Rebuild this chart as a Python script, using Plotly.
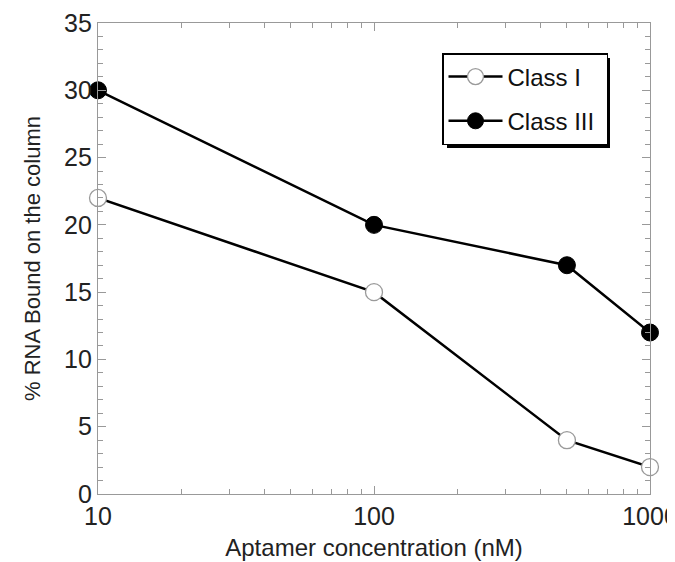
import plotly.graph_objects as go

concentration = [10, 100, 500, 1000]
class_i = [22, 15, 4, 2]
class_iii = [30, 20, 17, 12]
y_ticks = [0, 5, 10, 15, 20, 25, 30, 35]
x_ticks = [10, 100, 1000]
x_minor = [20, 30, 40, 50, 60, 70, 80, 90, 200, 300, 400, 500, 600, 700, 800, 900]

FONT = "Liberation Sans, Arial, sans-serif"

fig = go.Figure()
fig.add_trace(go.Scatter(
    x=concentration, y=class_i, mode="lines+markers", name="Class I",
    line=dict(color="black", width=2.5),
    marker=dict(size=17, color="white", line=dict(color="#9a9a9a", width=1.3)),
    cliponaxis=False, legendgroup="a",
))
fig.add_trace(go.Scatter(
    x=concentration, y=class_iii, mode="lines+markers", name="Class III\u00a0",
    line=dict(color="black", width=2.5),
    marker=dict(size=17, color="black", line=dict(color="black", width=1)),
    cliponaxis=False, legendgroup="b",
))

# page body has an 8px margin; compensate so screen positions match
OFF = 8
W, H = 675 - OFF, 562 - OFF
L, R, T, B = 98 - OFF, 25, 23 - OFF, 68
pw, ph = W - L - R, H - T - B

def px_to_paper(xp, yp):
    # xp, yp are screen pixels
    return (xp - OFF - L) / pw, (H - B - (yp - OFF)) / ph

lx0, ly0 = px_to_paper(442, 53)
sx0, sy0 = px_to_paper(447, 58)
sx1, sy1 = px_to_paper(610, 148)

fig.add_shape(type="rect", xref="paper", yref="paper", x0=sx0, y0=sy1, x1=sx1, y1=sy0,
              fillcolor="black", line=dict(width=0), layer="above")

axis_common = dict(
    ticks="inside", showline=True, linecolor="#999999", linewidth=1.2,
    tickcolor="#999999", mirror="ticks", showgrid=False, zeroline=False,
    automargin=False, ticklabeloverflow="allow",
    tickfont=dict(family=FONT, size=25, color="#222222"),
)

fig.update_layout(
    width=W, height=H,
    margin=dict(l=L, r=R, t=T, b=B),
    paper_bgcolor="white", plot_bgcolor="white",
    font=dict(family=FONT, color="#222222"),
    xaxis=dict(type="log", range=[1, 3], tickvals=x_ticks, ticktext=[str(v) for v in x_ticks],
               ticklen=8, tickwidth=1,
               minor=dict(ticks="inside", tickvals=x_minor, ticklen=5, tickcolor="#999999"),
               title=dict(text="Aptamer concentration (nM)", standoff=10,
                          font=dict(family=FONT, size=24, color="#222222")),
               **axis_common),
    yaxis=dict(range=[0, 35], tickvals=y_ticks, ticklen=8, tickwidth=1,
               ticklabelstandoff=0,
               minor=dict(ticks="inside", dtick=1, ticklen=5, tickcolor="#999999"),
               title=dict(text="% RNA Bound on the column", standoff=17,
                          font=dict(family=FONT, size=22, color="#222222")),
               **axis_common),
    showlegend=True,
    legend=dict(x=lx0, y=ly0, xanchor="left", yanchor="top",
                bgcolor="white", bordercolor="black", borderwidth=1.5,
                font=dict(family=FONT, size=24, color="#111111"),
                itemwidth=54, tracegroupgap=10),
)

fig.write_html("out.html")
